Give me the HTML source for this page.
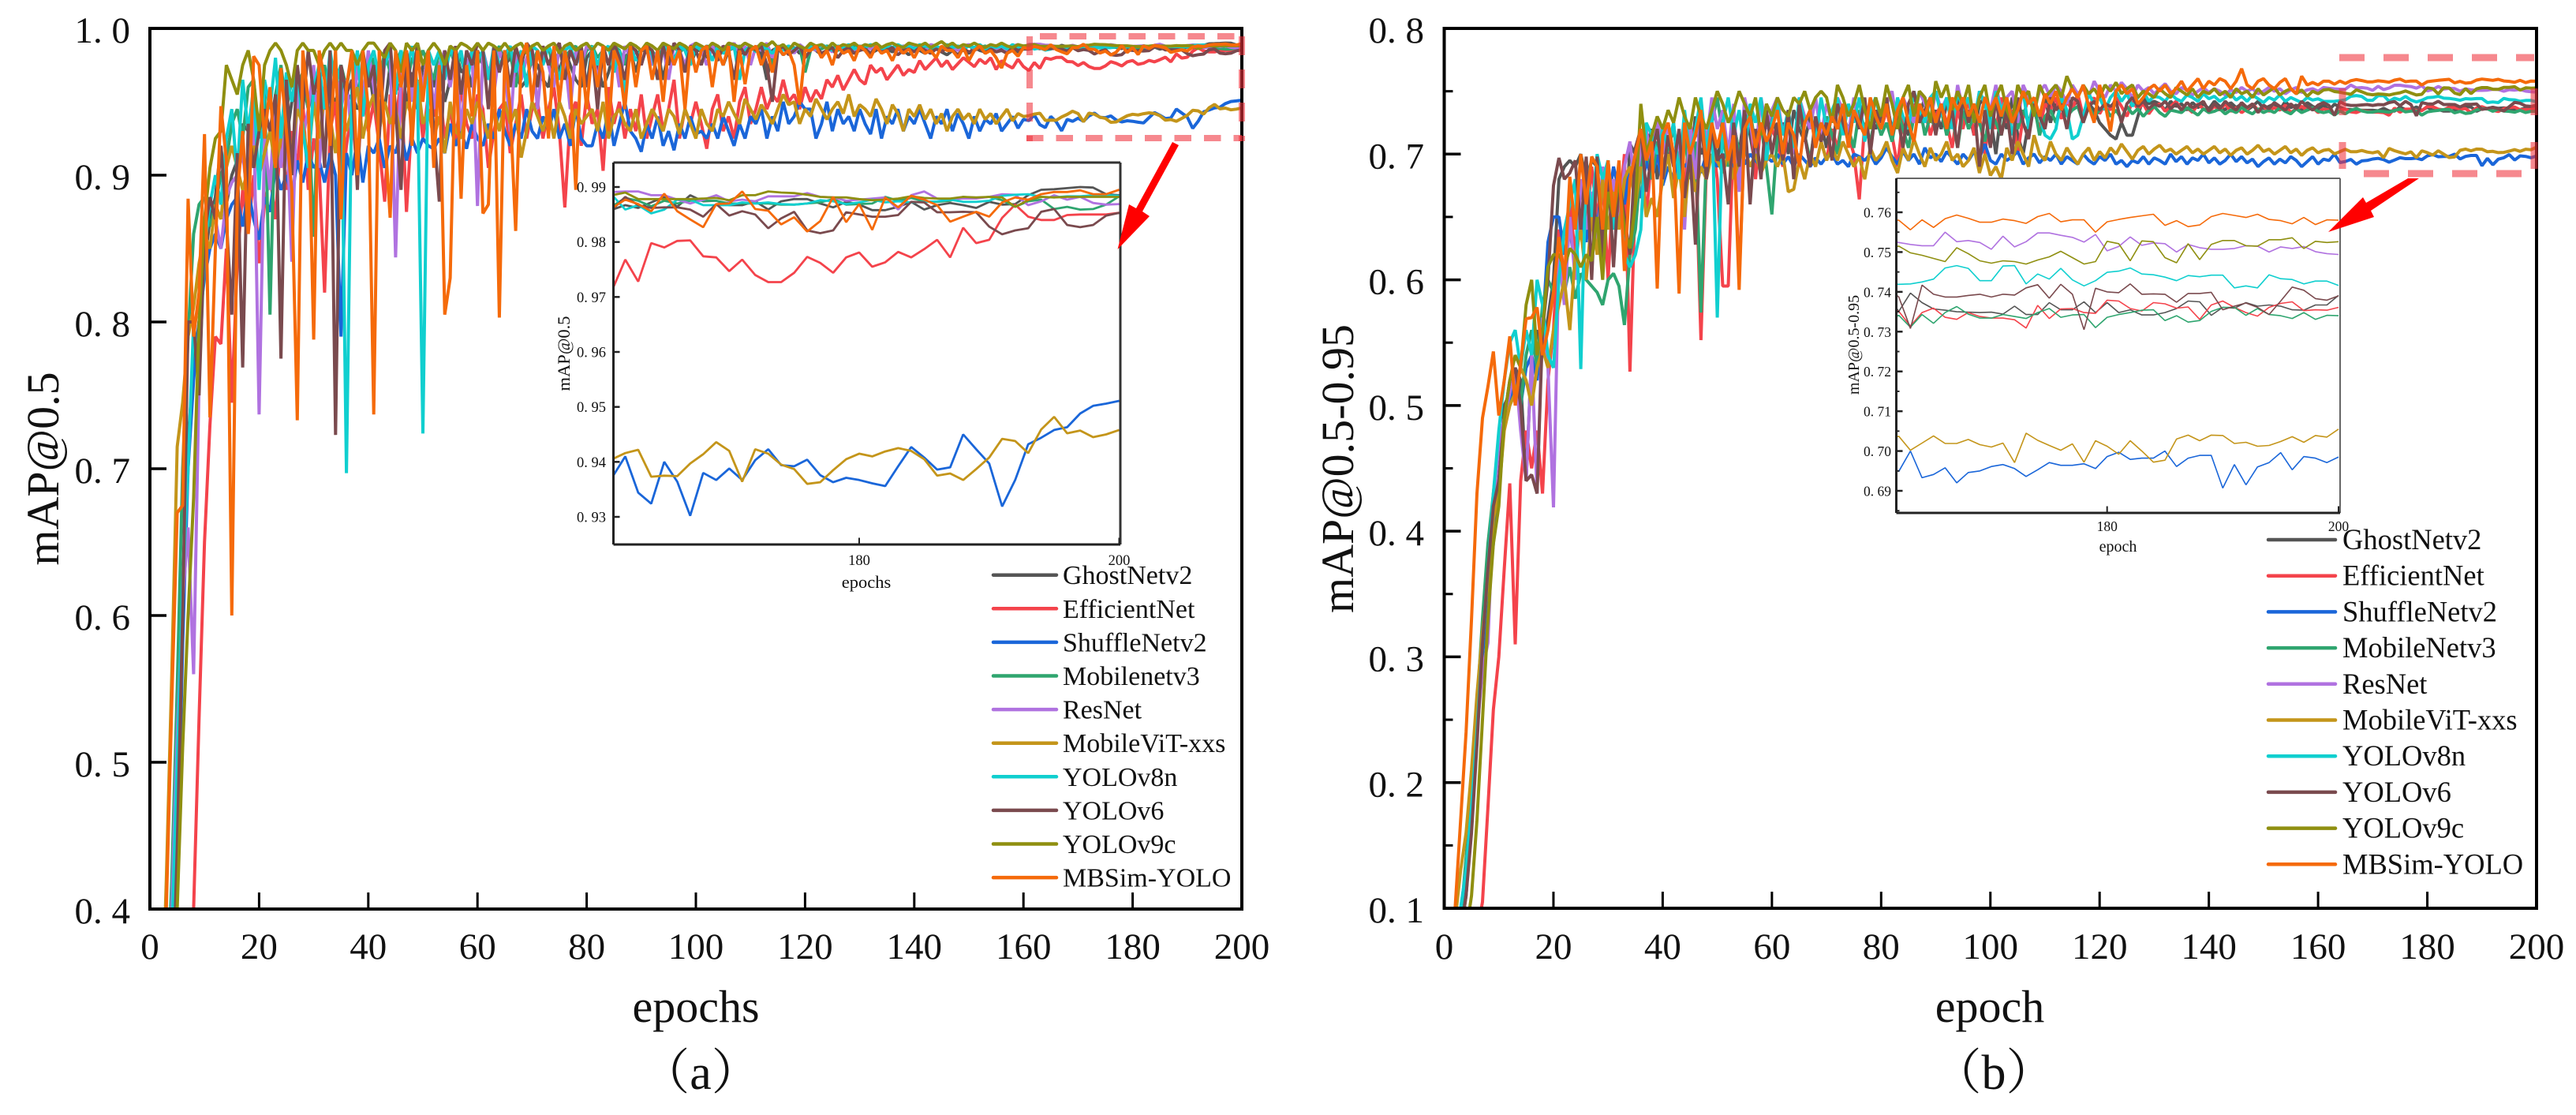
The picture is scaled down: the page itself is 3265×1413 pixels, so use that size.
<!DOCTYPE html>
<html lang="en">
<head>
<meta charset="utf-8">
<title>mAP training curves</title>
<style>
html,body{margin:0;padding:0;background:#fff;width:3265px;height:1413px;overflow:hidden;}
svg{display:block;font-family:"Liberation Serif","Noto Serif CJK SC",serif;fill:#111;}
</style>
</head>
<body>
<svg id="figure" xmlns="http://www.w3.org/2000/svg" width="3265" height="1413" viewBox="0 0 3265 1413">
<rect width="3265" height="1413" fill="#fff"/>
<g id="chart-a"></g>
<g id="chart-b"></g>
</svg>
<script>
// All mAP values are in thousandths (987.5 = 0.9875). Index 0 = epoch 1.
const seriesColors=["#555555","#f4434b","#1a66d9","#2fa56f","#b072e0","#c4951a","#10cfcf","#7a4a4e","#8f8f10","#f56a0a"];
const legendNamesA=["GhostNetv2","EfficientNet","ShuffleNetv2","Mobilenetv3","ResNet","MobileViT-xxs","YOLOv8n","YOLOv6","YOLOv9c","MBSim-YOLO"];
const legendNamesB=["GhostNetv2","EfficientNet","ShuffleNetv2","MobileNetv3","ResNet","MobileViT-xxs","YOLOv8n","YOLOv6","YOLOv9c","MBSim-YOLO"];
const xTickValues=[0,20,40,60,80,100,120,140,160,180,200];
const xTickLabels=["0","20","40","60","80","100","120","140","160","180","200"];
const yTickValuesA=[400,500,600,700,800,900,1000];
const yTickLabelsA=["0. 4","0. 5","0. 6","0. 7","0. 8","0. 9","1. 0"];
const yTickValuesB=[100,200,300,400,500,600,700,800];
const yTickLabelsB=["0. 1","0. 2","0. 3","0. 4","0. 5","0. 6","0. 7","0. 8"];
const yMinorValuesB=[150,250,350,450,550,650,750];
const insetXTicks=[180,200];
const insetYTicksA=[930,940,950,960,970,980,990];
const insetYLabelsA=["0. 93","0. 94","0. 95","0. 96","0. 97","0. 98","0. 99"];
const insetYTicksB=[690,700,710,720,730,740,750,760];
const insetYLabelsB=["0. 69","0. 70","0. 71","0. 72","0. 73","0. 74","0. 75","0. 76"];
const insetYMinorB=[685,695,705,715,725,735,745,755,765];

const aGhostNetv2=[100,200,300,380,460,620,720,770,800,840,
870,885,920,880,900,910,935,930,925,935,
945,930,940,935,925,950,955,965,945,960,
950,945,955,950,965,950,955,945,950,975,
950,960,945,975,965,955,950,970,945,975,
980,960,975,950,965,985,970,975,960,985,
975,970,965,985,975,980,970,960,965,980,
975,965,960,985,970,985,975,965,960,980,
985,975,960,970,985,975,980,985,970,985,
985,975,985,965,985,980,985,987,975,985,
985,980,987,985,975,985,987,982,985,987,
985,983,965,985,987,982,985,987,983,985,
987,985,982,985,987,985,988,985,983,987,
985,983,985,987,986,984,987,985,982,987,
985,983,986,987,984,982,985,987,985,983,
987,985,984,986,984,987,985,986,984,986,
985.9,986.7,986.2,987.2,988.2,986.4,988.5,987.4,987.5,986.7,986.7,987.4,985.9,987.4,987.8,987.8,987,986.3,987.3,986.8,985.8,985.8,986.4,987.3,985.9,986.7,987.1,986.7,986.2,987.3,986.8,986.9,988.5,989.5,989.6,989.8,990,989.9,988.7,988.5];
const aEfficientNet=[50,100,150,200,250,300,350,400,530,650,
730,790,785,850,745,840,890,860,900,840,
880,900,870,930,890,930,905,950,890,925,
905,820,930,950,885,920,945,900,960,930,
950,920,882,955,935,965,875,940,960,925,
955,940,960,925,945,920,960,935,925,955,
945,905,930,945,950,915,935,955,925,945,
950,925,945,960,930,878,940,950,920,955,
935,945,903,960,935,950,925,945,930,955,
925,940,955,930,945,965,925,945,935,950,
935,918,945,955,930,940,925,950,960,935,
945,960,945,955,950,965,950,955,945,960,
950,958,952,965,960,968,958,965,972,965,
962,975,970,973,965,970,975,968,972,970,
978,972,976,980,974,978,972,976,980,977,
974,979,976,980,972,978,975,973,979,974,
971.3,976.8,972.8,979.8,979,980.2,980.3,977.4,977.2,974.7,976.8,974,972.7,972.7,974.4,977.3,976.2,974.4,977.2,978.1,975.5,976.3,978.2,977.2,978.7,980.4,977.2,982.6,979.8,980.4,984.4,986.8,984.6,984,984,984.9,985,985,985,985.3];
const aShuffleNetv2=[50,120,200,300,420,580,700,760,800,830,
850,860,850,870,880,885,865,890,870,856,
885,875,905,890,900,885,910,895,915,905,
910,895,915,900,790,915,900,925,895,920,
915,925,905,920,915,930,910,925,915,925,
920,918,925,915,935,920,930,918,935,925,
920,935,925,945,930,920,935,925,945,930,
925,940,930,945,925,935,920,945,925,920,
920,935,925,945,920,935,950,930,925,916,
935,925,940,920,930,917,935,925,940,928,
930,925,935,925,940,930,920,935,925,940,
935,945,925,940,930,950,935,940,950,945,
945,925,935,950,930,945,935,940,930,945,
935,928,945,925,940,935,945,930,940,935,
945,935,925,940,935,945,930,942,935,925,
940,930,938,935,942,930,935,940,932,938,
937.2,941,934.4,932.4,940,936.4,930.2,938,936.7,938.8,936.7,940.3,942.3,939.4,939.2,940.4,937.6,936.3,937.1,936.7,936.1,935.6,939.2,942.7,940.8,938.6,939,945,942.3,939.7,931.9,936.7,943.2,944.4,945.8,946.3,948.8,950.2,950.6,951.1];
const aMobilenetv3=[100,220,320,420,550,700,790,860,880,885,
865,880,900,910,935,945,925,960,965,925,
960,805,955,975,945,965,960,970,945,858,
965,975,950,965,975,960,980,955,975,965,
980,960,985,970,975,985,960,980,975,985,
975,965,985,970,985,975,980,965,985,975,
985,970,980,988,975,985,960,980,985,975,
985,978,988,970,985,980,985,988,975,985,
988,980,985,975,988,985,975,988,983,985,
988,985,978,988,985,988,983,988,985,988,
985,988,986,988,984,988,986,988,985,988,
986,988,985,975,988,986,988,985,988,970,
985,988,986,988,987,985,988,986,988,987,
986,988,987,985,988,987,986,988,987,985,
988,987,986,988,985,987,988,986,987,988,
986,987,988,986,987,988,987,986,988,987,
986.5,988,987.5,986.5,987.5,987,987.5,987.5,987.5,987,987,987,987,986.8,986.8,987,987.2,987.8,986.8,986.9,987,988.2,987.5,988,987.4,987.3,987.5,988.2,988,988.2,987.6,986.4,987.4,987.7,986,986.4,985.9,986,986.8,988.3];
const aResNet=[80,180,280,400,520,610,660,560,760,860,
885,870,850,885,895,900,915,880,945,737,
925,890,955,905,940,841,960,925,945,975,
905,960,935,975,945,965,925,975,950,985,
960,930,978,985,844,975,985,950,980,960,
985,945,975,985,960,985,930,975,985,879,
985,970,955,985,975,930,985,965,980,988,
945,985,975,960,988,980,945,985,975,988,
985,965,988,975,985,960,988,980,985,975,
988,975,985,988,965,988,985,975,988,990,
985,975,988,982,988,985,990,983,988,975,
988,985,990,980,988,985,988,983,989,986,
988,985,989,987,984,988,986,989,985,987,
989,986,988,985,989,987,985,988,986,989,
987,985,989,988,986,989,987,985,988,989,
986,988,987,989,986,988,985,988,989,987,
989.1,989.2,989.2,988.5,988.5,987.7,987,987.7,988.5,987.4,987.7,987.4,988.3,988.3,988.3,988.9,988.2,988.1,987.5,987.7,987.9,988.1,985.9,988.5,989.2,987.9,987.7,987.9,987.9,988.2,988.7,988.6,986.7,987.4,988.5,987.7,988.2,987.1,986.8,986.9];
const aMobileViT=[150,300,420,560,715,745,790,810,840,860,
850,880,870,905,920,905,890,905,920,900,
915,930,905,925,940,915,945,935,910,950,
925,955,940,915,950,930,945,960,925,945,
955,930,950,935,945,925,950,940,965,935,
945,925,940,915,950,930,925,945,935,950,
940,925,945,930,950,935,945,912,930,950,
940,930,945,925,950,940,925,945,935,940,
945,930,950,925,940,945,935,930,945,925,
935,945,938,930,945,940,928,945,935,925,
945,935,930,945,940,950,942,935,952,945,
938,948,942,935,945,955,948,950,935,945,
940,952,945,938,945,950,942,955,940,948,
945,940,952,945,935,948,942,930,945,940,
948,938,945,935,942,930,940,945,938,942,
935,945,938,942,935,940,945,937,942,940,
940.5,941.6,942.2,937.3,937.5,937.4,939.7,941.4,943.6,942,936.4,942.3,941.5,939.5,938.7,936,936.3,938.5,940.5,941.5,941,941.9,942.5,942,940.5,937.5,937.9,936.7,938.7,940.8,944.2,943.8,941.6,945.9,948.2,945.2,945.7,944.5,945,945.8];
const aYOLOv8n=[60,160,260,380,500,620,700,800,760,850,
880,900,880,925,945,900,965,930,960,890,
965,945,980,925,970,950,975,930,905,960,
975,945,985,960,975,697,960,985,940,975,
985,965,975,985,955,985,970,988,960,724,
985,975,985,965,988,975,985,960,985,978,
985,965,988,975,982,988,970,985,960,988,
985,975,988,980,965,985,988,975,985,960,
988,975,985,988,970,985,955,988,978,985,
988,982,965,988,985,978,988,985,975,988,
985,988,978,988,983,985,988,965,985,988,
984,988,986,983,988,985,988,986,988,985,
988,986,989,987,985,988,987,989,986,988,
987,989,988,986,988,987,989,987,988,986,
989,988,987,988,986,989,987,988,986,988,
987,989,986,988,987,988,986,989,987,988,
988.5,985.9,986.7,985.2,985.9,987.7,987.7,986.7,986.7,986.7,987.2,987,987.2,986.9,986.8,987,987.6,987.4,986.9,987.2,987.7,987.2,987.4,987.2,987.3,987.4,987.7,987.3,987.3,987.5,988.4,988.6,988.7,988.2,988.1,988.3,988.3,988.5,988.5,988.4];
const aYOLOv6=[40,120,220,320,440,600,800,800,750,860,
885,870,920,870,805,915,769,935,905,930,
945,930,955,775,965,900,975,945,985,955,
970,905,985,723,975,955,965,890,985,960,
975,925,985,990,945,890,985,960,990,975,
985,930,882,985,965,988,955,985,975,990,
985,945,988,970,985,960,988,975,990,985,
960,988,975,985,990,965,985,975,988,960,
985,945,988,975,990,980,965,988,985,975,
988,985,965,988,975,990,985,970,988,985,
975,988,985,978,988,985,965,988,982,988,
985,988,975,950,985,988,982,985,988,980,
985,988,983,985,987,980,985,987,983,985,
986,983,987,984,985,987,982,985,986,984,
987,985,983,986,984,987,985,982,986,984,
985,987,983,986,984,985,983,987,985,986,
985.9,988.2,986.7,986.2,986.3,986.3,985.9,984.6,986.9,984.8,985.6,985,982.5,984.3,985.5,982.1,981.6,982.1,985.4,985,984.6,984.6,984.9,987.3,987.2,985.4,985.4,985.5,985.4,982.8,981.4,982.1,982.5,985.5,986,983.1,982.7,983.1,984.8,985.3];
const aYOLOv9c=[20,80,180,280,400,510,600,680,800,870,
905,925,930,975,965,955,975,985,965,930,
975,985,990,985,975,960,985,990,985,985,
975,985,990,985,990,985,985,975,985,990,
990,985,980,990,985,970,990,985,990,975,
985,990,985,975,988,985,990,988,985,990,
985,990,988,985,990,985,988,990,983,988,
990,985,988,990,983,988,990,985,988,990,
985,990,988,985,990,988,986,990,988,985,
990,988,985,990,988,986,990,988,985,990,
988,986,990,988,985,990,989,987,990,988,
986,990,988,991,987,989,985,990,988,986,
990,988,989,986,990,987,989,988,990,987,
989,988,990,987,989,990,988,987,990,989,
988,990,987,989,991,988,990,987,989,988,
990,988,987,989,988,990,988,987,989,988,
988.5,989,987.8,987.8,987.8,987.8,987.8,987.9,988,987.6,988.5,988.5,989.2,989,988.9,988.6,988.2,988.1,988.1,987.8,987.6,987.7,987.9,988.3,988,987.9,987.9,988.2,988.1,988.2,988.1,986.4,987.6,988.2,988.1,988.2,988.2,988.2,988.2,988.2];
const aMBSimYOLO=[120,260,400,540,670,675,884,790,820,928,
735,850,947,910,600,885,930,860,981,975,
925,960,905,973,930,890,733,985,950,788,
985,965,920,985,870,960,985,900,985,945,
737,985,930,871,985,960,985,920,985,950,
985,905,975,805,830,985,884,975,940,985,
874,880,985,803,985,945,862,980,990,950,
985,970,925,988,950,985,965,890,985,945,
985,960,988,930,985,975,945,988,960,985,
988,965,985,950,988,975,985,945,988,970,
985,988,960,985,975,988,950,985,962,985,
988,975,985,970,988,982,985,975,948,985,
985,988,980,985,975,988,983,985,978,988,
985,980,988,983,985,978,987,983,986,980,
987,983,985,980,988,985,985,980,987,978,
985,988,983,985,980,973,983,985,981,987,
986.2,987.7,986.9,985.6,988.8,985.6,984.1,982.7,986.9,987,989.2,986,985.7,983.2,984.5,981.9,983.8,988.2,983.6,986.9,982.2,988.1,986.3,988.4,987.7,986.7,983.7,984.6,985.5,984.6,987.2,988.1,987.7,988.7,989.1,989.1,989.4,988.7,988.7,989.5];

const bGhostNetv2=[40,60,80,110,170,240,320,380,420,440,
500,510,530,520,440,540,560,540,570,600,
680,690,695,690,700,680,695,690,610,695,
640,690,620,708,700,690,705,720,680,715,
700,725,680,715,690,730,700,710,725,695,
720,690,725,700,735,715,690,725,705,730,
715,725,700,735,720,710,730,715,725,705,
735,720,730,710,735,725,715,735,720,730,
740,720,735,725,715,740,730,745,725,735,
720,740,730,745,725,735,715,740,745,730,
700,735,720,745,715,700,725,740,730,745,
725,740,735,745,738,742,730,740,735,725,
720,715,712,725,715,715,730,745,740,742,
740,735,742,738,740,735,741,737,740,736,
742,738,735,741,737,740,735,738,742,736,
738,740,735,742,737,739,735,741,738,736,739,
735.1,739.7,737.3,735.7,735.4,735,734.9,734.8,734.9,734.4,736.4,734.3,734.3,737.3,735.5,735.5,737.5,734.8,737.3,734.8,735.5,734.2,734.2,734.8,735.8,737.7,737.5,734.1,736.1,735.9,737.3,736.4,736.7,736.4,735.5,735.4,736.7,736.7,739.1];
const bEfficientNet=[30,40,50,60,70,80,105,180,258,300,
370,438,310,440,480,450,480,430,520,560,
640,600,660,620,680,640,690,650,680,600,
680,650,700,527,670,710,650,700,720,680,
710,690,715,670,725,700,552,690,715,680,
595,595,720,600,715,735,680,725,700,720,
710,690,725,700,730,715,690,725,710,695,
720,705,730,715,700,664,725,710,730,720,
735,715,690,730,720,740,725,735,715,730,
740,725,705,735,720,745,715,730,700,735,
720,745,725,735,700,730,745,735,720,740,
735,745,728,742,735,748,730,738,745,732,
740,735,745,738,730,742,736,740,732,738,
740,734,738,742,735,737,733,740,736,734,
738,735,740,734,737,733,736,740,735,738,
734,737,735,739,733,736,738,735,737,733,736,
735.1,731.4,734.8,735.9,733.6,733.1,734.8,733.8,733.4,733.4,733,730.9,736.6,733.3,735.7,735.8,734.8,734.6,737.9,737.7,735.8,735.2,737.3,737,735.9,736.2,733.1,736.7,737.7,736.1,734.8,733.9,736.1,737.1,737.5,735.3,735.5,735.4,736.1];
const bShuffleNetv2=[40,60,90,120,170,240,300,350,390,440,
490,500,520,500,530,540,520,560,630,650,
650,620,640,610,650,630,670,640,680,660,
690,670,660,690,680,665,695,680,700,675,
690,680,700,690,695,700,685,700,695,690,
700,695,690,698,692,700,695,690,698,694,
700,692,698,690,700,695,690,697,692,698,
700,692,695,690,700,698,695,700,692,697,
705,698,692,702,695,700,692,705,697,700,
694,702,697,692,700,695,702,697,708,695,
692,700,695,698,702,692,697,700,693,698,
695,700,692,698,695,692,700,695,692,698,
695,700,692,695,690,695,693,698,692,697,
695,692,700,694,698,692,697,695,700,693,
697,692,695,700,694,698,693,696,690,694,
697,692,696,693,698,695,690,694,698,692,696,
694.9,700,693.3,694.1,695.8,692,694.6,695,696.1,696.6,695.6,693.6,695.3,697.1,696.4,696.4,696.8,695.6,698.6,699.7,697.9,698.2,698.2,700,696.1,698.2,698.9,698.9,690.7,696.6,691.5,696,697.1,699.6,695.3,698.6,698.2,697.1,698.5];
const bMobileNetv3=[40,50,90,140,190,260,330,390,430,470,
490,510,530,500,540,560,530,580,600,590,
620,590,610,585,605,600,595,590,580,600,
605,595,564,620,640,690,715,680,710,690,
705,720,690,715,680,710,574,700,725,745,
715,690,725,700,720,735,705,725,690,652,
715,705,725,700,730,715,695,725,710,730,
715,700,730,720,705,735,720,710,730,715,
725,710,735,720,705,730,740,715,730,720,
735,715,730,705,735,720,730,725,710,735,
725,715,740,730,720,735,725,740,715,730,
735,725,740,730,735,738,725,738,730,735,
738,730,735,728,738,732,736,730,735,738,
733,730,735,734,733,737,734,731,736,733,
734,736,732,735,733,737,734,732,736,733,
735,733,737,734,732,736,733,735,737,734,733,
734.1,731.1,734.3,732.1,734.8,736.3,734.4,733.4,733.4,734.3,733.8,733.3,734.8,735.8,733.6,734.2,734.3,731,733.6,734.3,734.8,735.4,735.5,732.8,734,732.4,732.8,735.1,736.1,736.1,734.1,735.8,734.3,734,733.3,734.8,733.1,734.1,734];
const bResNet=[50,70,100,130,180,240,290,311,420,470,
490,510,530,480,440,540,430,570,530,419,
620,580,650,600,680,640,670,620,690,660,
680,640,690,710,670,705,720,690,730,700,
725,690,715,640,725,680,735,710,745,720,
735,700,740,670,745,725,700,745,720,735,
745,715,735,700,745,730,720,745,715,740,
725,745,735,715,745,720,740,730,745,725,
740,750,720,745,735,725,750,740,725,750,
735,745,720,755,735,745,725,750,740,735,
755,735,745,750,725,755,745,735,750,755,
745,755,750,740,755,748,752,745,758,750,
745,755,750,757,752,745,755,750,753,748,
752,756,750,748,753,751,747,750,753,749,
752,750,747,751,749,753,750,752,748,750,
753,750,752,748,751,753,749,751,752,750,753,
752.4,751.9,751.6,751.6,755,752.6,752.9,752.4,750.7,754,751.3,752.6,754.8,754.8,754.2,753.7,752.5,754.4,750.3,751.4,753.8,751.7,752.3,752.1,750,751.9,751.1,750.7,750.7,750.9,751.6,751.5,750,751.3,750.9,751.4,750.1,749.6,749.4];
const bMobileViT=[60,90,130,160,210,270,320,360,410,430,
480,500,510,530,520,500,530,545,530,560,
580,600,560,620,640,600,650,620,680,640,
670,640,680,690,660,690,650,665,650,680,
700,665,690,650,700,670,690,680,700,695,
685,700,680,695,705,690,700,685,695,700,
690,700,670,672,695,680,700,690,710,695,
705,695,710,700,690,698,680,705,695,700,
710,695,685,705,695,712,700,690,705,695,
700,710,695,700,690,695,705,685,700,683,
690,680,705,695,710,700,690,715,700,695,
710,700,695,705,698,692,700,705,695,702,
697,705,700,708,702,696,703,706,700,704,
707,702,704,700,703,706,701,704,700,703,
706,701,704,699,703,705,700,703,707,702,
704,700,703,706,701,704,699,703,705,701,703,
703.7,700.2,702,703.8,701.9,701.9,702.9,701.6,701,702,697.1,704.5,702.7,701.4,700.2,701.8,697.2,702.6,701.2,699.2,702.6,700,697.2,697.7,703,704,702.6,704,703.9,701.9,702.2,701.2,701.4,702.4,703.6,702.2,703.9,703.5,705.5];
const bYOLOv8n=[50,70,100,130,180,240,310,370,430,480,
520,550,560,530,560,540,600,580,540,530,
600,640,660,680,529,695,650,700,680,695,
640,680,620,610,620,640,725,715,700,720,
705,725,680,735,700,720,745,700,735,570,
725,745,715,735,700,740,725,745,695,725,
740,715,735,705,745,725,735,710,745,720,
735,745,715,740,725,745,710,735,745,725,
740,715,745,730,720,750,735,725,745,750,
730,745,720,750,735,745,725,750,740,720,
750,735,745,715,735,750,720,745,730,715,
712,720,745,735,712,715,730,748,740,745,
735,745,750,742,748,738,745,750,742,746,
745,742,748,744,742,747,745,742,748,744,
746,742,745,748,743,746,742,747,744,741,
745,743,747,742,745,743,741,745,743,744,742,
741.9,742,742.5,743.2,746,746.6,745.9,742.8,742.8,746.5,746.6,742,744.5,743.2,745.9,743,741.5,742.8,744.9,745.2,746,744.5,744.3,743.7,742.8,744.1,743.8,744.2,744.2,741,741.5,741,744.3,743.3,743.1,742,742.7,742.7,741.6];
const bYOLOv6=[40,50,80,110,160,230,310,370,420,440,
490,520,530,500,440,445,430,560,600,675,
697,680,685,695,640,698,600,698,620,690,
610,680,650,620,705,720,670,700,720,680,
715,690,720,665,700,628,730,680,720,695,
700,660,725,690,735,660,720,680,735,700,
725,695,735,680,740,715,690,730,710,725,
695,740,725,710,735,720,745,700,735,725,
745,715,730,705,740,750,725,735,745,715,
740,720,735,705,745,725,740,690,735,705,
745,715,735,700,745,725,712,740,730,720,
745,735,740,720,745,742,725,738,742,735,
740,738,742,725,740,745,738,742,736,740,
738,742,736,740,735,741,737,739,742,734,
740,736,742,738,735,741,737,740,733,739,
736,741,738,735,740,736,742,738,735,739,741,
738.7,730.8,741.7,739.4,738.7,738.7,739.1,739.4,738.7,739.4,739.2,741,741.8,738.4,741.9,739.4,730.5,740.9,740,739.8,742,739.4,739.5,739.4,737.4,739.6,739.6,739.9,735.5,736.4,737.2,736.1,734.3,737.7,741.2,740.4,738.3,737.9,739];
const bYOLOv9c=[20,30,50,80,110,170,250,330,390,420,
490,520,540,530,580,600,540,560,610,620,
620,610,625,620,610,620,615,650,600,670,
650,680,640,625,660,740,700,715,730,720,
735,725,745,730,720,745,730,720,735,750,
740,725,735,750,740,730,745,715,740,730,
745,735,730,745,740,750,735,745,750,745,
725,755,745,730,740,755,735,720,745,730,
755,740,720,745,755,730,750,745,725,758,
745,755,735,750,740,755,725,745,755,730,
745,755,735,725,755,745,750,730,755,745,
750,755,745,762,752,745,755,748,752,745,
755,750,757,748,752,755,745,750,748,745,
752,748,745,753,750,747,752,745,750,748,
752,747,750,745,752,748,750,745,752,747,
750,753,747,750,752,748,751,746,750,748,751,
751.5,749.8,749.2,748.4,747.6,751.1,749.6,747.8,747.2,747.8,747.6,747,748,748.8,750.2,748.6,747,747.6,752.7,752.1,747.8,752.8,752.6,748.6,747.3,752.1,748.1,751.9,752.9,752.9,751.6,751.5,753.1,753.1,753.6,750.9,752.7,752.4,752.6];
const bMBSimYOLO=[60,100,170,240,330,430,490,515,543,492,
520,555,500,534,569,570,578,540,560,590,
634,600,682,640,700,660,698,690,640,695,
650,695,607,680,700,720,695,710,593,715,
725,700,589,725,700,715,735,690,725,705,
725,695,715,592,720,730,705,725,710,720,
735,700,725,715,690,725,735,705,725,715,
730,720,740,705,735,725,715,745,730,720,
740,715,735,745,725,710,740,730,745,725,
740,720,745,735,745,730,740,725,745,735,
745,730,745,725,735,750,740,745,730,748,
740,750,735,745,752,745,755,738,725,755,
740,718,750,755,748,752,740,745,752,755,
750,755,748,752,758,750,755,760,752,758,
755,760,758,752,758,768,755,752,758,760,
755,752,757,760,752,748,762,755,757,755,758,
758,755.6,758.1,756.2,758.4,759.3,758.5,757.5,757.5,758.3,757.9,757.2,758.9,759.7,757.6,758.1,758.1,755,757.6,758.2,758.7,759.1,759.5,756.7,757.9,756.4,756.8,758.9,759.7,759.2,758.7,759.5,758.2,757.9,757.1,758.7,756.9,758.1,758];

const seriesA=[aGhostNetv2,aEfficientNet,aShuffleNetv2,aMobilenetv3,aResNet,aMobileViT,aYOLOv8n,aYOLOv6,aYOLOv9c,aMBSimYOLO];
const seriesB=[bGhostNetv2,bEfficientNet,bShuffleNetv2,bMobileNetv3,bResNet,bMobileViT,bYOLOv8n,bYOLOv6,bYOLOv9c,bMBSimYOLO];

const NS='http://www.w3.org/2000/svg';
function mk(parent,tag,attrs,text){
  const el=document.createElementNS(NS,tag);
  for(const k in attrs){el.setAttribute(k,attrs[k]);}
  if(text!==undefined){el.textContent=text;}
  parent.appendChild(el);
  return el;
}
function linear(d0,d1,r0,r1){return v=>r0+(v-d0)*(r1-r0)/(d1-d0);}

// Segments below the plot floor are cut where they cross it, so nothing leaves the frame.
function linePoints(vals,xs,ys,minEpoch,floorY){
  const pts=[];
  let prev=null;
  vals.forEach((v,idx)=>{
    const epoch=idx+1;
    if(epoch<minEpoch){return;}
    const cur={x:xs(epoch),y:ys(v)};
    if(prev&&(prev.y>floorY)!==(cur.y>floorY)){
      const t=(floorY-prev.y)/(cur.y-prev.y);
      pts.push((prev.x+t*(cur.x-prev.x)).toFixed(1)+','+floorY.toFixed(1));
    }
    if(cur.y<=floorY){pts.push(cur.x.toFixed(1)+','+cur.y.toFixed(1));}
    prev=cur;
  });
  return pts;
}

function drawLines(group,series,xs,ys,clipId,width,minEpoch,layer,floorY){
  const g=mk(group,'g',{'clip-path':'url(#'+clipId+')',fill:'none','stroke-linejoin':'bevel'});
  
  
  series.forEach((vals,i)=>{
    const pts=linePoints(vals,xs,ys,minEpoch,floorY);
    const line=mk(g,'polyline',{points:pts.join(' '),stroke:seriesColors[i],'stroke-width':width});
    
    
  });
}

function drawChart(c){
  const root=document.getElementById(c.id);
  const xs=linear(0,200,c.left,c.right);
  const ys=linear(c.yMin,c.yMax,c.bottom,c.top);
  const defs=mk(root,'defs',{});
  const cp=mk(defs,'clipPath',{id:c.id+'-clip'});
  mk(cp,'rect',{x:c.left,y:c.top,width:c.right-c.left,height:c.bottom-c.top});
  const cpi=mk(defs,'clipPath',{id:c.id+'-inset-clip'});
  mk(cpi,'rect',{x:c.inset.left,y:c.inset.top,width:c.inset.right-c.inset.left,height:c.inset.bottom-c.inset.top});

  drawLines(root,c.series,xs,ys,c.id+'-clip',c.lineW,1,'main-series',c.bottom+4);

  // major axes
  const frame=mk(root,'rect',{x:c.left,y:c.top,width:c.right-c.left,height:c.bottom-c.top,fill:'none',stroke:'#000','stroke-width':4});
  
  
  xTickValues.forEach((t,i)=>{
    const x=xs(t);
    const tick=mk(root,'line',{x1:x,x2:x,y1:c.bottom,y2:c.bottom-21,stroke:'#000','stroke-width':3});
    
    
    const lab=mk(root,'text',{x:x,y:1215,'font-size':47,'text-anchor':'middle'},xTickLabels[i]);
    
    
  });
  c.yTicks.forEach((t,i)=>{
    const y=ys(t);
    const tick=mk(root,'line',{x1:c.left,x2:c.left+21,y1:y,y2:y,stroke:'#000','stroke-width':3.5});
    
    
    const lab=mk(root,'text',{x:c.yLabelRight,y:y+18,'font-size':47,'text-anchor':'end'},c.yLabels[i]);
    
    
  });
  c.yMinor.forEach(t=>{
    const y=ys(t);
    const tick=mk(root,'line',{x1:c.left,x2:c.left+11,y1:y,y2:y,stroke:'#000','stroke-width':3});
    
    
  });
  const xt=mk(root,'text',{x:c.xTitleX,y:1295,'font-size':58,'text-anchor':'middle'},c.xTitle);
  
  
  const yt=mk(root,'text',{x:0,y:0,'font-size':58,'text-anchor':'middle',transform:'translate('+c.yTitleX+',594) rotate(-90)'},c.yTitle);
  
  
  const cap=mk(root,'text',{x:c.captionX,y:1380,'font-size':62,'text-anchor':'middle'},c.caption);
  
  

  // dashed highlight box
  const box=mk(root,'g',{fill:'none',stroke:'rgba(240,50,60,0.58)','stroke-width':c.box.w});
  
  
  mk(box,'line',{x1:c.box.x0top,x2:c.box.x1,y1:c.box.y0,y2:c.box.y0,'stroke-dasharray':c.box.dashH});
  mk(box,'line',{x1:c.box.x0bot,x2:c.box.x1,y1:c.box.y1,y2:c.box.y1,'stroke-dasharray':c.box.dashH});
  mk(box,'line',{x1:c.box.x0,x2:c.box.x0,y1:c.box.yv,y2:c.box.y1+c.box.w/2,'stroke-dasharray':c.box.dashV});
  mk(box,'line',{x1:c.box.x1,x2:c.box.x1,y1:c.box.yv,y2:c.box.y1+c.box.w/2,'stroke-dasharray':c.box.dashV});

  // inset
  const ins=c.inset;
  const ig=mk(root,'g',{});
  
  
  mk(ig,'rect',{x:ins.left,y:ins.top,width:ins.right-ins.left,height:ins.bottom-ins.top,fill:'#fff'});
  const ixs=linear(180,200,ins.x180,ins.x200);
  const iys=linear(ins.yRef0,ins.yRef1,ins.yPx0,ins.yPx1);
  drawLines(ig,c.series,ixs,iys,c.id+'-inset-clip',ins.lineW,161,'inset-series',ins.bottom+4);
  mk(ig,'line',{x1:ins.left,x2:ins.right,y1:ins.top,y2:ins.top,stroke:ins.frameColor,'stroke-width':ins.frameW});
  mk(ig,'line',{x1:ins.right,x2:ins.right,y1:ins.top,y2:ins.bottom,stroke:ins.frameColor,'stroke-width':ins.frameW});
  mk(ig,'line',{x1:ins.left,x2:ins.left,y1:ins.top,y2:ins.bottom,stroke:'#222','stroke-width':3});
  mk(ig,'line',{x1:ins.left,x2:ins.right,y1:ins.bottom,y2:ins.bottom,stroke:'#222','stroke-width':3});
  insetXTicks.forEach(t=>{
    const x=ixs(t);
    mk(ig,'line',{x1:x,x2:x,y1:ins.bottom,y2:ins.bottom-8.5,stroke:'#222','stroke-width':2});
    const lab=mk(ig,'text',{x:x,y:ins.xLabelY,'font-size':ins.tickFont,'text-anchor':'middle'},String(t));
    
    
  });
  ins.yTicks.forEach((t,i)=>{
    const y=iys(t);
    mk(ig,'line',{x1:ins.left,x2:ins.left+8,y1:y,y2:y,stroke:'#222','stroke-width':2.5});
    const lab=mk(ig,'text',{x:ins.labelRight,y:y+6.5,'font-size':ins.tickFont,'text-anchor':'end'},ins.yLabels[i]);
    
    
  });
  ins.yMinor.forEach(t=>{
    const y=iys(t);
    mk(ig,'line',{x1:ins.left,x2:ins.left+4,y1:y,y2:y,stroke:'#222','stroke-width':2});
  });
  const ixt=mk(ig,'text',{x:ins.xTitleX,y:ins.xTitleY,'font-size':ins.titleFont,'text-anchor':'middle'},ins.xTitle);
  
  
  const iyt=mk(ig,'text',{x:0,y:0,'font-size':ins.titleFont,'text-anchor':'middle',transform:'translate('+ins.yTitleX+','+ins.yTitleY+') rotate(-90)'},ins.yTitle);
  
  

  // arrow
  const arrow=mk(root,'polygon',{points:c.arrow,fill:'#ff0000'});
  
  

  // legend
  const lg=mk(root,'g',{});
  
  
  c.legendNames.forEach((name,i)=>{
    const y=c.legend.y0+i*c.legend.dy;
    const h=mk(lg,'line',{x1:c.legend.x0,x2:c.legend.x1,y1:y,y2:y,stroke:seriesColors[i],'stroke-width':4.5,'stroke-linecap':'round'});
    
    
    const t=mk(lg,'text',{x:c.legend.tx,y:y+c.legend.dyText,'font-size':c.legend.font},name);
    
    
  });
}

drawChart({
  id:'chart-a',series:seriesA,left:190,right:1574,top:36,bottom:1152,yMin:400,yMax:1000,lineW:4,
  yTicks:yTickValuesA,yLabels:yTickLabelsA,yMinor:[],yLabelRight:165,
  xTitle:'epochs',xTitleX:882,yTitle:'mAP@0.5',yTitleX:74,caption:'（a）',captionX:888,
  box:{w:8,x0:1305,x1:1574,x0top:1318,x0bot:1301,y0:46,y1:175,yv:46,dashH:'21.5 16',dashV:'24 18'},
  inset:{left:777.5,right:1420,top:206,bottom:690,x180:1089,x200:1418.5,yRef0:990,yRef1:930,yPx0:237,yPx1:655,
    lineW:2.8,frameColor:'#333',frameW:3,yTicks:insetYTicksA,yLabels:insetYLabelsA,yMinor:[],tickFont:18.5,labelRight:768,
    xLabelY:716,xTitle:'epochs',xTitleX:1098,xTitleY:745,yTitle:'mAP@0.5',yTitleX:722,yTitleY:448,titleFont:22.5},
  arrow:'1494,184 1448,268 1457,274 1416.5,316 1431,259 1440,264 1486,180',
  legendNames:legendNamesA,
  legend:{x0:1259,x1:1339,y0:728.7,dy:42.6,tx:1347,dyText:11.5,font:34}
});
drawChart({
  id:'chart-b',series:seriesB,left:1830.5,right:3215,top:36,bottom:1151,yMin:100,yMax:800,lineW:4,
  yTicks:yTickValuesB,yLabels:yTickLabelsB,yMinor:yMinorValuesB,yLabelRight:1805,
  xTitle:'epoch',xTitleX:2522,yTitle:'mAP@0.5-0.95',yTitleX:1715,caption:'（b）',captionX:2527,
  box:{w:9,x0:2969,x1:3212,x0top:2965,x0bot:2996,y0:73,y1:220,yv:112,dashH:'32 24',dashV:'34 34'},
  inset:{left:2403.5,right:2966,top:226,bottom:650,x180:2670.7,x200:2964,yRef0:760,yRef1:690,yPx0:269,yPx1:622,
    lineW:1.6,frameColor:'#666',frameW:2,yTicks:insetYTicksB,yLabels:insetYLabelsB,yMinor:insetYMinorB,tickFont:17.5,labelRight:2397,
    xLabelY:673,xTitle:'epoch',xTitleX:2684.5,xTitleY:699,yTitle:'mAP@0.5-0.95',yTitleX:2356,yTitleY:437,titleFont:20},
  arrow:'3066,226 3005,267 3009,275 2951,294 2995,250 2999,257 3052,226',
  legendNames:legendNamesB,
  legend:{x0:2875,x1:2960,y0:684,dy:45.7,tx:2969,dyText:12,font:36.5}
});
</script>
</body>
</html>
